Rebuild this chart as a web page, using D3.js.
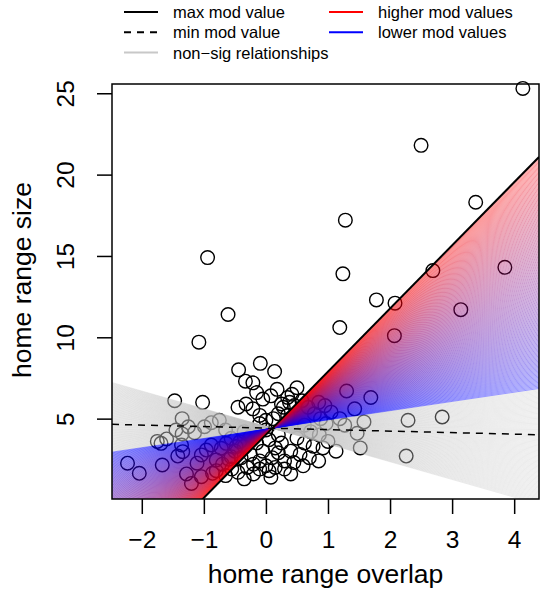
<!DOCTYPE html>
<html>
<head>
<meta charset="utf-8">
<script src="https://cdn.jsdelivr.net/npm/d3@7"></script>
<style>
  body { margin: 0; background: #fff; }
  text { font-family: "Liberation Sans", Arial, Helvetica, sans-serif; fill: #000; }
</style>
</head>
<body>
<div id="chart"></div>
<script>
// observed points: home range overlap vs home range size
var overlapX = [4.14, 2.50, 3.38, 1.28, -0.94, 1.24, 2.69, 3.85, 1.78, 2.08, -0.61, 1.19, 3.14, 2.07, -1.08,
  1.30, 1.69, 1.43, 1.19, 1.27, 1.58, 1.47, 1.52, 1.13, 2.29, 2.84, 2.26, 1.05, 0.95, 0.85,
  -0.44, -0.09, 0.14, -0.33, -0.21, -0.15, 0.08, -0.45, -0.32, -0.21, -0.10, 0.00,
  0.35, 0.42, 0.50, 0.38, 0.46, 0.28, 0.58, 0.68, 0.78, 0.88, 0.97, 0.62, 0.72, 0.86, 0.50, 0.62, 0.76, 0.92,
  0.40, 0.55, 0.70, 0.30, 0.45, 0.60, 0.85, 1.00,
  -0.30, -0.20, -0.10, 0.00, 0.10, 0.20, -0.40, -0.25, -0.05, 0.15, 0.25, -0.35, -0.15, 0.05, 0.20,
  -0.50, -0.60, -0.70, -0.55, -0.45, -0.80, -0.65, 0.05, 0.15, 0.30, -0.20, 0.00, -0.10, 0.12, 0.20, 0.25, 0.35,
  -0.35, -0.25, 0.08, -0.35,
  -1.47, -1.02, -1.35, -0.88, -0.99, -1.35, -1.15, -1.69, -1.36, -1.42, -1.34, -2.23, -2.04, -1.67, -1.28, -1.20,
  -1.11, -1.04, -0.96, -0.88, -1.04, -0.86, -0.80, -0.72, -0.64, -0.56, -0.56, -0.48, -0.42,
  -1.75, -1.60, -1.45, -1.25, -0.75, -0.65, -0.10, 0.40, -0.05, 0.18];
var rangeSize = [25.3, 21.8, 18.3, 17.2, 14.9, 13.9, 14.1, 14.3, 12.3, 12.1, 11.4, 10.6, 11.7, 10.1, 9.7,
  6.7, 6.3, 5.6, 5.0, 4.6, 4.8, 4.1, 3.2, 3.0, 4.9, 5.1, 2.7, 5.4, 5.8, 6.0,
  8.0, 8.4, 7.9, 7.3, 7.2, 6.6, 6.4, 5.7, 5.9, 5.6, 5.2, 4.9,
  6.3, 6.5, 6.9, 6.0, 5.8, 5.7, 6.1, 5.7, 5.3, 5.0, 4.7, 4.6, 4.2, 4.0, 3.8, 3.5, 3.3, 3.2,
  3.0, 2.8, 2.6, 2.4, 2.3, 2.1, 2.4, 3.6,
  2.0, 2.2, 2.4, 2.1, 2.6, 2.9, 2.6, 2.8, 3.0, 3.2, 3.5, 3.3, 3.5, 3.7, 4.0,
  3.0, 2.5, 2.2, 1.9, 1.7, 1.8, 1.5, 1.8, 2.0, 1.9, 1.6, 4.3, 4.7, 5.0, 5.3, 5.9, 5.2,
  4.2, 3.9, 1.4, 1.3,
  6.1, 6.0, 5.0, 4.75, 4.5, 4.06, 4.14, 3.48, 3.38, 2.70, 2.97, 2.26, 1.64, 2.15, 1.6, 1.02,
  2.26, 2.77, 3.07, 3.38, 1.43, 1.64, 2.46, 3.18, 3.48, 3.79, 2.66, 3.28, 3.58,
  3.6, 3.75, 4.3, 4.5, 4.9, 4.3, 1.9, 1.6, 6.2, 6.8];

// simple-slope fan: every line crosses the pivot
var pivotX = 0.103, pivotY = 4.41;
var slopeLow = -1.087, slopeHigh = 3.88, nLines = 280;
var sigCutoff = 0.557;          // slopes below this are non-sig (grey)
var slopeMinMod = -0.093;       // dashed line
var slopeMaxMod = 3.88;         // solid line

var legendItems = [
  {label: "max mod value", color: "#000", dash: null, col: 0, row: 0},
  {label: "min mod value", color: "#000", dash: "7,6", col: 0, row: 1},
  {label: "non\u2212sig relationships", color: "#c8c8c8", dash: null, col: 0, row: 2},
  {label: "higher mod values", color: "#ff0000", dash: null, col: 1, row: 0},
  {label: "lower mod values", color: "#0000ff", dash: null, col: 1, row: 1}
];

var width = 543, height = 589;
var pLeft = 112, pRight = 539, pTop = 84, pBottom = 499;

var svg = d3.select("#chart").append("svg")
  .attr("width", width).attr("height", height);

var x = d3.scaleLinear().domain([-2.48, 4.40]).range([pLeft, pRight]);
var y = d3.scaleLinear().domain([0.06, 25.57]).range([pBottom, pTop]);

svg.append("clipPath").attr("id", "plotclip")
  .append("rect").attr("x", pLeft).attr("y", pTop)
  .attr("width", pRight - pLeft).attr("height", pBottom - pTop);

// points first, the fan is drawn over them
svg.append("g").selectAll("circle")
  .data(overlapX.map((d, i) => [d, rangeSize[i]]))
  .join("circle")
    .attr("cx", d => x(d[0]))
    .attr("cy", d => y(d[1]))
    .attr("r", 6.8)
    .attr("fill", "none")
    .attr("stroke", "#000")
    .attr("stroke-width", 1.4);

var slopes = d3.range(nLines).map(i => slopeLow + (slopeHigh - slopeLow) * i / (nLines - 1));
var ramp = d3.interpolateRgb("#0000ff", "#ff0000");
var x0 = x.domain()[0], x1 = x.domain()[1];

var fan = svg.append("g").attr("clip-path", "url(#plotclip)");
fan.selectAll("line.fan")
  .data(slopes)
  .join("line")
    .attr("class", "fan")
    .attr("x1", x(x0)).attr("x2", x(x1))
    .attr("y1", s => y(pivotY + s * (x0 - pivotX)))
    .attr("y2", s => y(pivotY + s * (x1 - pivotX)))
    .attr("stroke", s => s < sigCutoff ? "#bebebe"
      : ramp((s - sigCutoff) / (slopeHigh - sigCutoff)))
    .attr("stroke-opacity", s => s < sigCutoff ? 0.35 : 0.45)
    .attr("stroke-width", 0.9);

// min / max moderator lines
fan.append("line")
  .attr("x1", x(x0)).attr("x2", x(x1))
  .attr("y1", y(pivotY + slopeMinMod * (x0 - pivotX)))
  .attr("y2", y(pivotY + slopeMinMod * (x1 - pivotX)))
  .attr("stroke", "#000").attr("stroke-width", 1.5)
  .attr("stroke-dasharray", "7,6");
fan.append("line")
  .attr("x1", x(x0)).attr("x2", x(x1))
  .attr("y1", y(pivotY + slopeMaxMod * (x0 - pivotX)))
  .attr("y2", y(pivotY + slopeMaxMod * (x1 - pivotX)))
  .attr("stroke", "#000").attr("stroke-width", 2);

// box
svg.append("rect")
  .attr("x", pLeft).attr("y", pTop)
  .attr("width", pRight - pLeft).attr("height", pBottom - pTop)
  .attr("fill", "none").attr("stroke", "#000").attr("stroke-width", 1.5);

// axes
var xAxis = svg.append("g").attr("transform", "translate(0," + pBottom + ")")
  .call(d3.axisBottom(x).tickValues([-2, -1, 0, 1, 2, 3, 4]).tickSize(15).tickPadding(17)
    .tickFormat(d => d < 0 ? "\u2212" + Math.abs(d) : d));
xAxis.select(".domain").remove();
xAxis.selectAll("line").attr("stroke-width", 1.5);
xAxis.selectAll("text").attr("font-size", 24.5).attr("font-family", null);

var yAxis = svg.append("g").attr("transform", "translate(" + pLeft + ",0)")
  .call(d3.axisLeft(y).tickValues([5, 10, 15, 20, 25]).tickSize(15).tickFormat(d3.format("d")));
yAxis.select(".domain").remove();
yAxis.selectAll("line").attr("stroke-width", 1.5);
yAxis.selectAll("text")
  .attr("font-size", 24.5).attr("font-family", null)
  .attr("x", null).attr("dy", null)
  .attr("text-anchor", "middle")
  .attr("dominant-baseline", "central")
  .attr("transform", "translate(-47,0) rotate(-90)");

svg.append("text")
  .attr("x", (pLeft + pRight) / 2).attr("y", 583)
  .attr("text-anchor", "middle").attr("font-size", 26.5)
  .text("home range overlap");
svg.append("text")
  .attr("transform", "translate(22,280) rotate(-90)")
  .attr("text-anchor", "middle").attr("dominant-baseline", "central")
  .attr("font-size", 26.5)
  .text("home range size");

// legend
var lg = svg.append("g").selectAll("g")
  .data(legendItems)
  .join("g")
    .attr("transform", d => "translate(" + (d.col ? 329 : 124) + "," + (12 + d.row * 20.3) + ")");
lg.append("line")
  .attr("x1", 0).attr("x2", 34)
  .attr("stroke", d => d.color).attr("stroke-width", 2)
  .attr("stroke-dasharray", d => d.dash);
lg.append("text")
  .attr("x", 49).attr("dominant-baseline", "central")
  .attr("font-size", 16.5)
  .text(d => d.label);
</script>
</body>
</html>
